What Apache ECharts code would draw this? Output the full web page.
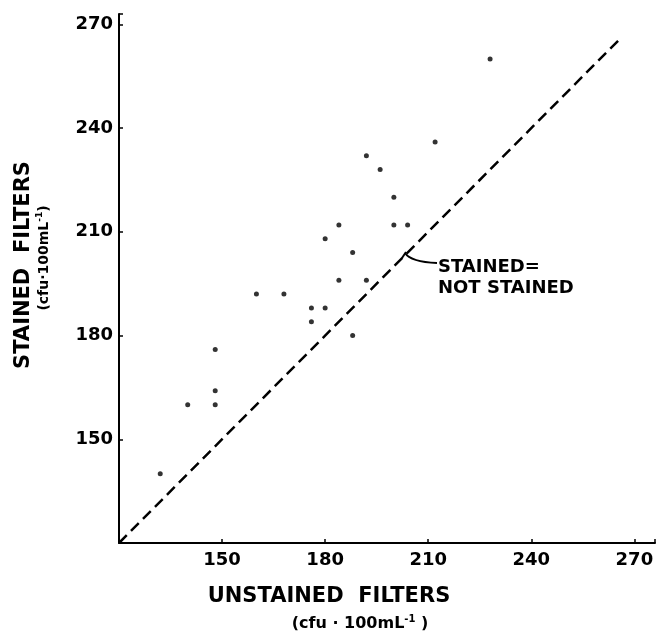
<!DOCTYPE html>
<html>
<head>
    <meta charset="utf-8">
    <script src="https://cdn.jsdelivr.net/npm/echarts@6/dist/echarts.min.js"></script>
    <style>
        html, body { margin: 0; padding: 0; background: #fff; }
        #main { width: 658px; height: 634px; }
    </style>
</head>
<body>
<div id="main"></div>
<script type="text/javascript">
    // 数据 (cfu·100mL-1)
    var unstained = [132, 140, 148, 148, 148, 160, 168, 176, 180, 176, 188, 184, 192, 188, 180, 184, 200, 204, 200, 196, 192, 212, 228];
    var stained   = [140, 160, 176, 164, 160, 192, 192, 188, 188, 184, 180, 196, 196, 204, 208, 212, 212, 212, 220, 228, 232, 236, 260];
    var equalLine = [120, 265.5];
    var tickValues = [150, 180, 210, 240, 270];

    var points = [];
    for (var i = 0; i < unstained.length; i++) {
        points.push([unstained[i], stained[i]]);
    }
    var linePts = [];
    for (var j = 0; j < equalLine.length; j++) {
        linePts.push([equalLine[j], equalLine[j]]);
    }

    var font = 'DejaVu Sans';
    var labelFmt = function (v) {
        return tickValues.indexOf(v) >= 0 ? String(v) : '';
    };

    var chart = echarts.init(document.getElementById('main'));
    var option = {
        animation: false,
        backgroundColor: '#fff',
        grid: { left: 119, right: 0, top: 14, bottom: 91, containLabel: false },
        xAxis: {
            type: 'value', min: 120, max: 276, interval: 30,
            splitLine: { show: false },
            axisLine: { lineStyle: { color: '#000', width: 2 } },
            axisTick: { inside: true, length: 4, lineStyle: { color: '#000', width: 1.5 } },
            axisLabel: { formatter: labelFmt, color: '#000', fontFamily: font, fontWeight: 'bold', fontSize: 18, margin: 8 }
        },
        yAxis: {
            type: 'value', min: 120, max: 273, interval: 30,
            splitLine: { show: false },
            axisLine: { lineStyle: { color: '#000', width: 2 } },
            axisTick: { inside: true, length: 4, lineStyle: { color: '#000', width: 1.5 } },
            axisLabel: { formatter: labelFmt, color: '#000', fontFamily: font, fontWeight: 'bold', fontSize: 18, margin: 6 }
        },
        series: [
            {
                type: 'line',
                data: linePts,
                symbol: 'none',
                lineStyle: { color: '#000', width: 2.5, type: [11, 6] },
                z: 1
            },
            {
                type: 'scatter',
                data: points,
                symbol: 'circle',
                symbolSize: 5,
                itemStyle: { color: '#000' },
                z: 2
            }
        ],
        graphic: [
            {
                type: 'text', left: 'center', x: 0, top: 586,
                style: { text: 'UNSTAINED  FILTERS', font: 'bold 21px ' + font, fill: '#000' },
                position: [0, 0]
            },
            {
                type: 'text', x: 360, y: 624,
                style: {
                    text: '{a|(cfu · 100mL}{s|-1}{a| )}',
                    align: 'center', verticalAlign: 'middle',
                    rich: {
                        a: { font: 'bold 16px ' + font, fill: '#000' },
                        s: { font: 'bold 10px ' + font, fill: '#000', padding: [0, 0, 9, 0] }
                    }
                }
            },
            {
                type: 'text', x: 24, y: 265, rotation: Math.PI / 2,
                style: { text: 'STAINED  FILTERS', font: 'bold 21px ' + font, fill: '#000', align: 'center', verticalAlign: 'middle' }
            },
            {
                type: 'text', x: 44, y: 258, rotation: Math.PI / 2,
                style: {
                    text: '{a|(cfu·100mL}{s|-1}{a|)}',
                    align: 'center', verticalAlign: 'middle',
                    rich: {
                        a: { font: 'bold 14px ' + font, fill: '#000' },
                        s: { font: 'bold 9px ' + font, fill: '#000', padding: [0, 0, 8, 0] }
                    }
                }
            },
            {
                type: 'text', x: 438, y: 267,
                style: { text: 'STAINED=', font: 'bold 18px ' + font, fill: '#000', verticalAlign: 'middle' }
            },
            {
                type: 'text', x: 438, y: 288,
                style: { text: 'NOT STAINED', font: 'bold 18px ' + font, fill: '#000', verticalAlign: 'middle' }
            },
            {
                type: 'bezierCurve',
                shape: { x1: 405, y1: 253, cpx1: 411, cpy1: 262, x2: 437, y2: 263 },
                style: { stroke: '#000', lineWidth: 2, fill: null }
            },
            {
                type: 'line',
                shape: { x1: 402, y1: 258, x2: 406, y2: 252 },
                style: { stroke: '#000', lineWidth: 2 }
            }
        ]
    };
    chart.setOption(option);
</script>
</body>
</html>
